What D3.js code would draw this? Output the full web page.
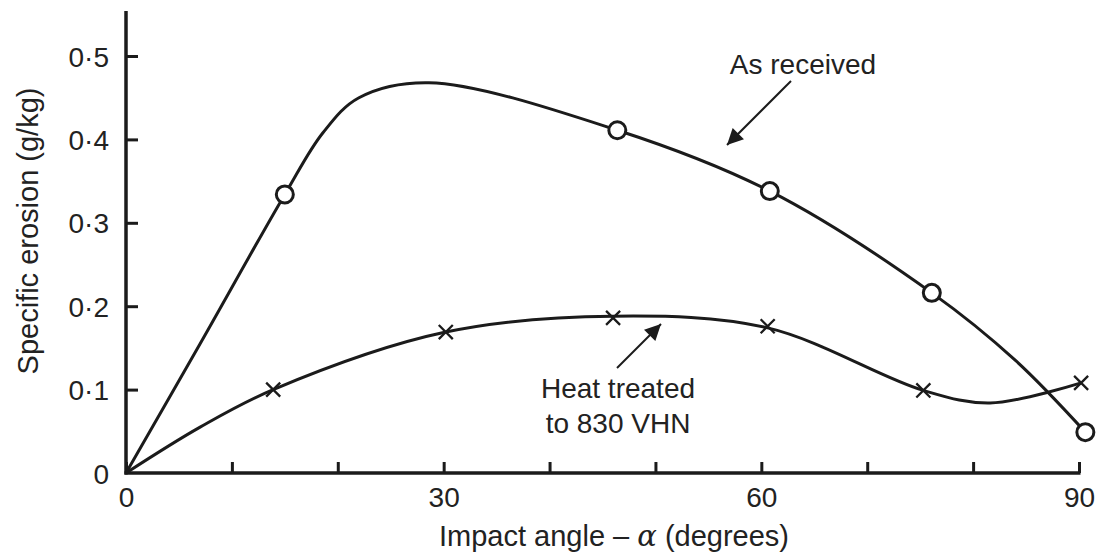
<!DOCTYPE html>
<html>
<head>
<meta charset="utf-8">
<script src="https://cdn.jsdelivr.net/npm/d3@7"></script>
<style>
  html, body { margin: 0; padding: 0; background: #fff; }
  svg { display: block; }
  text { font-family: "Liberation Sans", Arial, sans-serif; fill: #222; }
</style>
</head>
<body>
<svg id="chart" width="1104" height="555"></svg>
<script>
// ---- data ----
const xTickValues = [0, 10, 20, 30, 40, 50, 60, 70, 80, 90];
const xTickLabels = {0: "0", 30: "30", 60: "60", 90: "90"};
const yTickValues = [0, 0.1, 0.2, 0.3, 0.4, 0.5];
const yTickLabels = ["0", "0·1", "0·2", "0·3", "0·4", "0·5"];

// "As received" — measured points (circles)
const asReceivedX = [15.0, 46.4, 60.8, 76.1, 90.6];
const asReceivedY = [0.334, 0.411, 0.338, 0.216, 0.049];
// points the hand-drawn "As received" curve passes through
const asCurveX = [0, 7.0, 15.0, 18.6, 22.0, 28.6, 46.4, 60.8, 76.1, 84.0, 90.6];
const asCurveY = [0, 0.155, 0.334, 0.408, 0.450, 0.468, 0.411, 0.338, 0.216, 0.135, 0.049];

// "Heat treated to 830 VHN" — measured points (crosses)
const heatX = [13.9, 30.2, 46.0, 60.6, 75.3, 90.2];
const heatY = [0.100, 0.169, 0.186, 0.176, 0.099, 0.108];
// points the hand-drawn heat-treated curve passes through
const heatCurveX = [0, 7.0, 13.9, 30.2, 46.0, 60.6, 75.3, 81.6, 90.2];
const heatCurveY = [0, 0.055, 0.100, 0.169, 0.188, 0.174, 0.099, 0.084, 0.108];

// ---- drawing ----
const svg = d3.select("#chart");
const ink = "#1b1b1b";

const x = d3.scaleLinear().domain([0, 90]).range([126, 1079]);
const y = d3.scaleLinear().domain([0, 0.5]).range([473, 56]);
const yTop = 11;

// axes
const xAxis = d3.axisBottom(x).tickValues(xTickValues)
  .tickSizeInner(-11).tickSizeOuter(0).tickFormat(d => xTickLabels[d] || "");
const gx = svg.append("g").attr("transform", `translate(0,${y(0)})`).call(xAxis);
gx.select(".domain").remove();
gx.selectAll(".tick line").attr("stroke", ink).attr("stroke-width", 3);
gx.selectAll(".tick text").attr("font-size", 28).attr("fill", "#222")
  .attr("font-family", "Liberation Sans, Arial, sans-serif").attr("y", 14).attr("dy", "0.71em");

const yAxis = d3.axisLeft(y).tickValues(yTickValues)
  .tickSizeInner(-12).tickSizeOuter(0).tickFormat((d, i) => yTickLabels[i]);
const gy = svg.append("g").attr("transform", `translate(${x(0)},0)`).call(yAxis);
gy.select(".domain").remove();
gy.selectAll(".tick line").attr("stroke", ink).attr("stroke-width", 3);
gy.selectAll(".tick text").attr("font-size", 28).attr("fill", "#222")
  .attr("font-family", "Liberation Sans, Arial, sans-serif").attr("x", -17).attr("dy", "0.36em");
gy.selectAll(".tick").filter(d => d === 0).select("line").remove();

// axis lines
svg.append("line").attr("x1", x(0)).attr("x2", x(0)).attr("y1", yTop).attr("y2", y(0) + 1.5)
  .attr("stroke", ink).attr("stroke-width", 3.5);
svg.append("line").attr("x1", x(0) - 1.5).attr("x2", x(90) + 1.5).attr("y1", y(0)).attr("y2", y(0))
  .attr("stroke", ink).attr("stroke-width", 3.5);

// curves
const line = d3.line().x(d => x(d[0])).y(d => y(d[1])).curve(d3.curveCatmullRom.alpha(0.5));
svg.append("path").datum(asCurveX.map((v, i) => [v, asCurveY[i]]))
  .attr("d", line).attr("fill", "none").attr("stroke", ink).attr("stroke-width", 3);
svg.append("path").datum(heatCurveX.map((v, i) => [v, heatCurveY[i]]))
  .attr("d", line).attr("fill", "none").attr("stroke", ink).attr("stroke-width", 3);

// circles
svg.selectAll("circle.as").data(asReceivedX.map((v, i) => [v, asReceivedY[i]]))
  .enter().append("circle").attr("class", "as")
  .attr("cx", d => x(d[0])).attr("cy", d => y(d[1])).attr("r", 8.5)
  .attr("fill", "#fff").attr("stroke", ink).attr("stroke-width", 3);

// crosses
const crossPath = d3.symbol().type(d3.symbolX).size(130);
svg.selectAll("path.cross").data(heatX.map((v, i) => [v, heatY[i]]))
  .enter().append("path").attr("class", "cross")
  .attr("transform", d => `translate(${x(d[0])},${y(d[1])})`)
  .attr("d", crossPath).attr("fill", "none").attr("stroke", ink).attr("stroke-width", 2.3);

// arrows
const defs = svg.append("defs");
defs.append("marker").attr("id", "ah").attr("viewBox", "0 0 10 10")
  .attr("refX", 10).attr("refY", 5).attr("markerWidth", 20).attr("markerHeight", 16)
  .attr("markerUnits", "userSpaceOnUse").attr("orient", "auto")
  .append("path").attr("d", "M0,0 L10,5 L0,10 Z").attr("fill", ink);

svg.append("line").attr("x1", 791).attr("y1", 81).attr("x2", 727).attr("y2", 145)
  .attr("stroke", ink).attr("stroke-width", 2).attr("marker-end", "url(#ah)");
svg.append("line").attr("x1", 617).attr("y1", 368).attr("x2", 661).attr("y2", 324)
  .attr("stroke", ink).attr("stroke-width", 2).attr("marker-end", "url(#ah)");

// annotations
svg.append("text").attr("x", 803).attr("y", 74).attr("text-anchor", "middle")
  .attr("font-size", 28).text("As received");
const ht = svg.append("text").attr("text-anchor", "middle").attr("font-size", 28);
ht.append("tspan").attr("x", 618).attr("y", 398).text("Heat treated");
ht.append("tspan").attr("x", 618).attr("y", 433).text("to 830 VHN");

// axis titles
const xt = svg.append("text").attr("x", 614).attr("y", 546).attr("text-anchor", "middle")
  .attr("font-size", 29);
xt.append("tspan").text("Impact angle – ");
xt.append("tspan").attr("font-family", "DejaVu Serif, Liberation Serif, serif")
  .attr("font-style", "italic").text("α");
xt.append("tspan").text(" (degrees)");

svg.append("text").attr("transform", "translate(38,231) rotate(-90)")
  .attr("text-anchor", "middle").attr("font-size", 29).text("Specific erosion (g/kg)");
</script>
</body>
</html>
